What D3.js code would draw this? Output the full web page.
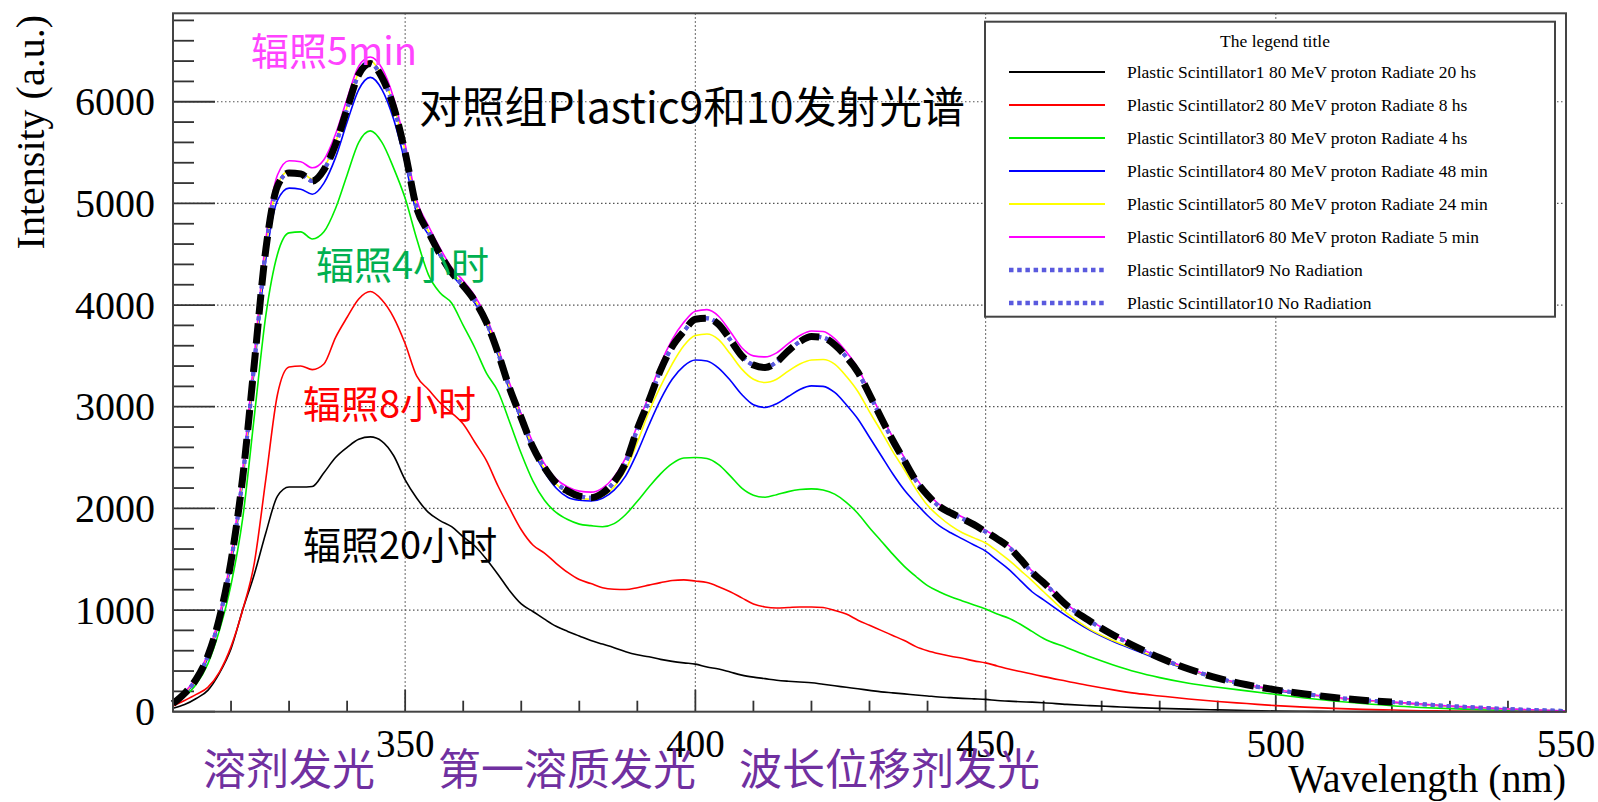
<!DOCTYPE html>
<html>
<head>
<meta charset="utf-8">
<script src="https://cdn.jsdelivr.net/npm/d3@7"></script>
<style>
  body { margin: 0; background: #fff; }
  svg { display: block; }
</style>
</head>
<body>
<div id="chart"></div>
<script>
// wavelengths (nm) shared by every series
const wavelengths = [310,312,314,316,318,320,322,324,326,328,330,332,334,336,338,340,342,344,346,348,
  350,352,354,356,358,360,362,364,366,368,370,372,374,376,378,380,382,384,386,388,
  390,392,394,396,398,400,402,404,406,408,410,412,414,416,418,420,422,424,426,428,
  430,432,434,436,438,440,442,444,446,448,450,452,454,456,458,460,464,468,472,476,
  480,485,490,495,500,505,510,515,520,525,530,535,540,545,550];

const ps1_20h = [34,70,130,210,380,620,1000,1350,1760,2120,2210,2210,2215,2350,2500,2600,2680,2703,2660,2520,
  2280,2100,1960,1880,1820,1720,1630,1500,1350,1190,1060,986,910,840,790,745,700,665,630,590,
  560,540,515,495,480,468,440,420,390,360,340,325,310,300,292,285,270,255,240,225,
  210,195,185,175,165,155,145,138,131,126,121,110,104,98,94,88,72,60,50,40,
  33,25,18,12,7,4,2,1,0,0,0,0,0,0,0];

const ps2_8h = [55,110,170,240,390,640,1000,1460,2290,3120,3390,3400,3365,3420,3680,3880,4060,4133,4050,3880,
  3620,3300,3170,3040,2940,2830,2650,2470,2220,2000,1790,1640,1560,1460,1370,1300,1260,1220,1205,1202,
  1220,1245,1270,1290,1297,1285,1270,1230,1180,1120,1060,1030,1020,1025,1030,1030,1025,995,960,900,
  850,800,750,700,640,600,570,545,525,500,480,450,420,395,370,345,300,255,215,180,
  155,125,100,80,60,45,33,23,16,10,6,4,3,2,1];

const ps3_4h = [70,150,270,470,800,1250,1900,2900,3900,4500,4710,4720,4650,4720,4950,5280,5600,5713,5600,5350,
  5050,4650,4300,4120,4020,3800,3580,3330,3150,2850,2540,2271,2080,1960,1890,1845,1830,1820,1850,1940,
  2070,2210,2340,2440,2495,2500,2490,2430,2320,2200,2130,2110,2135,2165,2185,2192,2180,2140,2060,1950,
  1810,1680,1550,1430,1330,1240,1180,1130,1090,1050,1010,960,920,860,790,720,630,540,460,390,
  335,280,240,205,170,135,105,80,58,42,30,20,12,6,3];

const ps4_48min = [75,170,310,530,900,1450,2260,3370,4450,5030,5150,5140,5090,5200,5450,5800,6120,6240,6120,5830,
  5400,4900,4690,4480,4300,4170,4020,3810,3510,3160,2860,2570,2360,2200,2110,2080,2072,2100,2180,2320,
  2550,2820,3070,3270,3400,3460,3450,3380,3260,3120,3020,2993,3030,3100,3170,3205,3200,3140,3020,2880,
  2700,2520,2340,2180,2050,1930,1830,1760,1700,1640,1580,1490,1400,1290,1180,1100,940,800,690,600,
  510,410,325,260,210,171,137,110,92,72,53,38,25,14,7];

const ps5_24min = [80,180,320,550,925,1490,2310,3430,4560,5180,5320,5310,5240,5350,5600,5950,6290,6400,6260,5970,
  5510,4960,4730,4510,4330,4200,4050,3840,3540,3190,2890,2600,2390,2240,2150,2100,2090,2120,2210,2380,
  2650,2950,3200,3420,3600,3700,3715,3660,3520,3370,3270,3238,3270,3350,3420,3460,3465,3420,3300,3150,
  2950,2760,2560,2380,2190,2030,1920,1830,1760,1710,1660,1580,1490,1390,1290,1180,970,810,700,610,
  520,415,328,263,213,173,138,111,93,73,54,39,25,14,7];

const ps6_5min = [85,190,340,570,950,1530,2380,3500,4650,5280,5420,5410,5350,5430,5680,6030,6350,6440,6330,6040,
  5580,5030,4780,4560,4370,4240,4090,3880,3580,3230,2930,2650,2440,2290,2210,2170,2160,2200,2310,2500,
  2820,3110,3420,3660,3830,3940,3955,3890,3740,3580,3500,3490,3530,3620,3700,3745,3740,3670,3540,3380,
  3150,2920,2700,2500,2300,2150,2040,1975,1915,1855,1785,1715,1635,1515,1385,1280,1055,898,762,640,
  535,425,334,268,218,177,142,115,96,76,56,41,27,16,8];

// unirradiated control (Plastic 9 / 10)
const control = [80,180,320,547,920,1480,2300,3420,4550,5170,5300,5290,5220,5330,5580,5930,6268,6375,6240,5950,
  5500,4950,4720,4500,4320,4190,4040,3830,3530,3180,2890,2603,2400,2250,2170,2120,2105,2150,2260,2450,
  2780,3060,3360,3590,3740,3860,3870,3810,3660,3500,3410,3386,3440,3550,3640,3690,3680,3610,3490,3340,
  3120,2890,2670,2470,2273,2130,2020,1955,1900,1840,1770,1700,1620,1500,1370,1270,1046,890,755,635,
  530,420,330,265,215,175,140,113,95,75,55,40,26,15,7];

const seriesNames = [
  "Plastic Scintillator1 80 MeV proton Radiate 20 hs",
  "Plastic Scintillator2 80 MeV proton Radiate 8 hs",
  "Plastic Scintillator3 80 MeV proton Radiate 4 hs",
  "Plastic Scintillator4 80 MeV proton Radiate 48 min",
  "Plastic Scintillator5 80 MeV proton Radiate 24 min",
  "Plastic Scintillator6 80 MeV proton Radiate 5 min",
  "Plastic Scintillator9 No Radiation",
  "Plastic Scintillator10 No Radiation"
];
const seriesValues = [ps1_20h, ps2_8h, ps3_4h, ps4_48min, ps5_24min, ps6_5min, control, control];
const seriesColors = ["#000000", "#ff0000", "#00ee00", "#0000ff", "#ffff00", "#ff00ff", "#5a5ade", "#5a5ade"];
const seriesDotted = [false, false, false, false, false, false, true, true];

const xMajor = [350, 400, 450, 500, 550];
const yMajor = [0, 1000, 2000, 3000, 4000, 5000, 6000];

const W = 1598, H = 802;
const svg = d3.select("#chart").append("svg")
  .attr("width", W).attr("height", H);

const x = d3.scaleLinear().domain([310, 550]).range([173, 1566]);
const y = d3.scaleLinear().domain([0, 6870]).range([711.7, 13.3]);

const serif = "'Liberation Serif', 'Times New Roman', serif";
const cjk = "'Noto Sans CJK SC', 'Noto Sans', sans-serif";

// grid
svg.append("g").selectAll("line")
  .data(xMajor.filter(d => d < 550))
  .enter().append("line")
  .attr("x1", d => x(d)).attr("x2", d => x(d))
  .attr("y1", y.range()[1]).attr("y2", y.range()[0])
  .attr("stroke", "#555").attr("stroke-width", 1.2).attr("stroke-dasharray", "1.5,2.5");
svg.append("g").selectAll("line")
  .data(yMajor.filter(d => d > 0))
  .enter().append("line")
  .attr("x1", x.range()[0]).attr("x2", x.range()[1])
  .attr("y1", d => y(d)).attr("y2", d => y(d))
  .attr("stroke", "#555").attr("stroke-width", 1.2).attr("stroke-dasharray", "1.5,2.5");

// ticks
const yMinor = d3.range(0, 6801, 200);
svg.append("g").selectAll("line")
  .data(yMinor)
  .enter().append("line")
  .attr("x1", x.range()[0])
  .attr("x2", d => x.range()[0] + (d % 1000 === 0 ? 42 : 21))
  .attr("y1", d => y(d)).attr("y2", d => y(d))
  .attr("stroke", "#333").attr("stroke-width", 1.8);
const xMinor = d3.range(320, 550, 10);
svg.append("g").selectAll("line")
  .data(xMinor)
  .enter().append("line")
  .attr("x1", d => x(d)).attr("x2", d => x(d))
  .attr("y1", y.range()[0])
  .attr("y2", d => y.range()[0] - (d % 50 === 0 ? 22 : 11))
  .attr("stroke", "#333").attr("stroke-width", 1.8);

// curves
const line = d3.line()
  .x(d => x(d[0]))
  .y(d => y(d[1]))
  .curve(d3.curveMonotoneX);

const plot = svg.append("g");
seriesValues.forEach((vals, i) => {
  const pts = wavelengths.map((w, k) => [w, vals[k]]);
  plot.append("path")
    .attr("d", line(pts))
    .attr("fill", "none")
    .attr("stroke", seriesColors[i])
    .attr("stroke-width", seriesDotted[i] ? 4 : 1.6)
    .attr("stroke-dasharray", seriesDotted[i] ? "4,4" : null);
});

// thick dashed control overlay
const ctlPts = wavelengths.map((w, k) => [w, control[k]]).filter(d => d[0] <= 521);
plot.append("path")
  .attr("d", line(ctlPts))
  .attr("fill", "none")
  .attr("stroke", "#000")
  .attr("stroke-width", 7)
  .attr("stroke-dasharray", "20,9");

// frame
svg.append("rect")
  .attr("x", x.range()[0]).attr("y", y.range()[1])
  .attr("width", x.range()[1] - x.range()[0])
  .attr("height", y.range()[0] - y.range()[1])
  .attr("fill", "none").attr("stroke", "#444").attr("stroke-width", 2);

// tick labels
svg.append("g").selectAll("text")
  .data(yMajor)
  .enter().append("text")
  .attr("x", 155).attr("y", d => y(d) + 13.5)
  .attr("text-anchor", "end")
  .style("font-family", serif).style("font-size", "40px")
  .text(d => d);
svg.append("g").selectAll("text")
  .data(xMajor)
  .enter().append("text")
  .attr("x", d => x(d)).attr("y", 757)
  .attr("text-anchor", "middle")
  .style("font-family", serif).style("font-size", "39px")
  .text(d => d);

svg.append("text")
  .attr("transform", "translate(44,15) rotate(-90)")
  .attr("text-anchor", "end")
  .style("font-family", serif).style("font-size", "40px")
  .text("Intensity (a.u.)");
svg.append("text")
  .attr("x", 1566).attr("y", 792)
  .attr("text-anchor", "end")
  .style("font-family", serif).style("font-size", "40px")
  .text("Wavelength (nm)");

// legend
const lg = svg.append("g");
lg.append("rect")
  .attr("x", 985).attr("y", 21.7).attr("width", 570).attr("height", 295)
  .attr("fill", "#fff").attr("stroke", "#444").attr("stroke-width", 2);
lg.append("text")
  .attr("x", 1275).attr("y", 47)
  .attr("text-anchor", "middle")
  .style("font-family", serif).style("font-size", "17.5px")
  .text("The legend title");
seriesNames.forEach((name, i) => {
  const cy = 72 + 33 * i;
  lg.append("line")
    .attr("x1", 1009).attr("x2", 1105).attr("y1", cy).attr("y2", cy)
    .attr("stroke", seriesColors[i])
    .attr("stroke-width", seriesDotted[i] ? 4.5 : 2)
    .attr("stroke-dasharray", seriesDotted[i] ? "4.5,3.7" : null);
  lg.append("text")
    .attr("x", 1127).attr("y", cy + 5.5)
    .style("font-family", serif).style("font-size", "17.5px")
    .text(name);
});

// annotations
const notes = [
  { text: "辐照5min", x: 251, y: 65, size: 38, color: "#ff44ff" },
  { text: "对照组Plastic9和10发射光谱", x: 419, y: 123, size: 42.8, color: "#000000" },
  { text: "辐照4小时", x: 316, y: 279, size: 38, color: "#00b050" },
  { text: "辐照8小时", x: 303, y: 418, size: 38, color: "#ff0000" },
  { text: "辐照20小时", x: 303, y: 559, size: 38, color: "#000000" },
  { text: "溶剂发光", x: 203, y: 785, size: 43, color: "#7030a0" },
  { text: "第一溶质发光", x: 438, y: 785, size: 43, color: "#7030a0" },
  { text: "波长位移剂发光", x: 739, y: 785, size: 43, color: "#7030a0" }
];
svg.append("g").selectAll("text")
  .data(notes)
  .enter().append("text")
  .attr("x", d => d.x).attr("y", d => d.y)
  .attr("fill", d => d.color)
  .style("font-family", cjk)
  .style("font-size", d => d.size + "px")
  .text(d => d.text);
</script>
</body>
</html>
